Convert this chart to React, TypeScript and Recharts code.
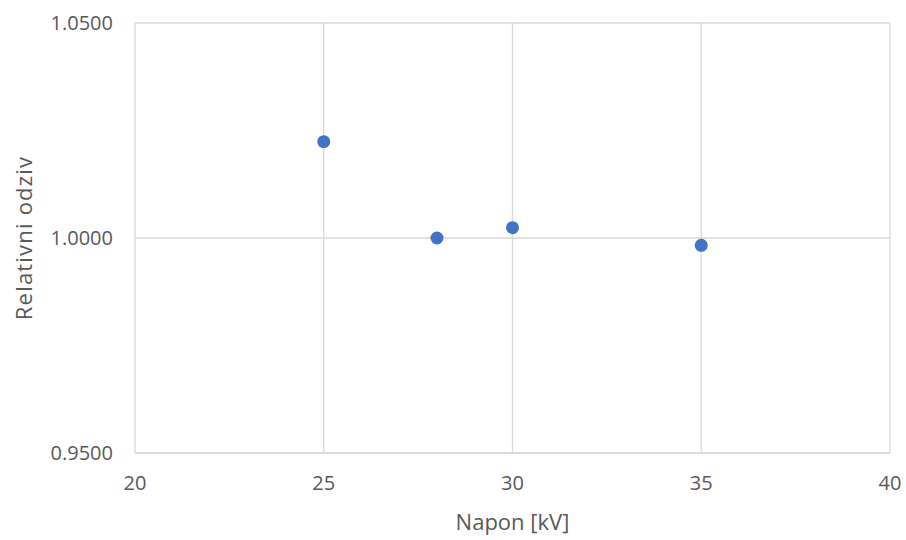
import { ScatterChart, Scatter, XAxis, YAxis, CartesianGrid } from 'recharts';

const napon = [25, 28, 30, 35];
const odziv = [1.0224, 1.0, 1.0024, 0.9983];
const xTicks = [20, 25, 30, 35, 40];
const yTicks = [0.95, 1.0, 1.05];

const data = napon.map((x, i) => ({ x, y: odziv[i] }));

const textColor = '#595959';
const gridColor = '#d9d9d9';
const font = '"Open Sans", "Noto Sans", sans-serif';

const Dot = (props: any) => <circle cx={props.cx} cy={props.cy} r={6.5} fill="#4472C4" />;

export default function App() {
  return (
    <div style={{ position: 'absolute', left: 0, top: 0, width: 906, height: 540, background: '#fff', fontFamily: font }}>
      <ScatterChart width={906} height={540} margin={{ top: 23, right: 16, bottom: 7, left: 55 }}>
        <CartesianGrid stroke={gridColor} strokeWidth={1.3} />
        <XAxis
          type="number"
          dataKey="x"
          domain={[20, 40]}
          ticks={xTicks}
          height={80}
          tickLine={false}
          axisLine={{ stroke: gridColor, strokeWidth: 1.5 }}
          tickMargin={17}
          tick={{ fill: textColor, fontSize: 20, fontFamily: font }}
          label={{ value: 'Napon [kV]', position: 'insideBottom', offset: 3, fill: textColor, fontSize: 22, fontFamily: font }}
        />
        <YAxis
          type="number"
          dataKey="y"
          domain={[0.95, 1.05]}
          ticks={yTicks}
          width={80}
          tickLine={false}
          axisLine={false}
          tickMargin={16}
          tickFormatter={(v: number) => v.toFixed(4)}
          tick={{ fill: textColor, fontSize: 20, fontFamily: font }}
          label={{ value: 'Relativni odziv', angle: -90, position: 'insideLeft', offset: -31, fill: textColor, fontSize: 22, fontFamily: font, style: { textAnchor: 'middle', letterSpacing: 1.2 } }}
        />
        <Scatter data={data} fill="#4472C4" shape={Dot} isAnimationActive={false} />
      </ScatterChart>
    </div>
  );
}
